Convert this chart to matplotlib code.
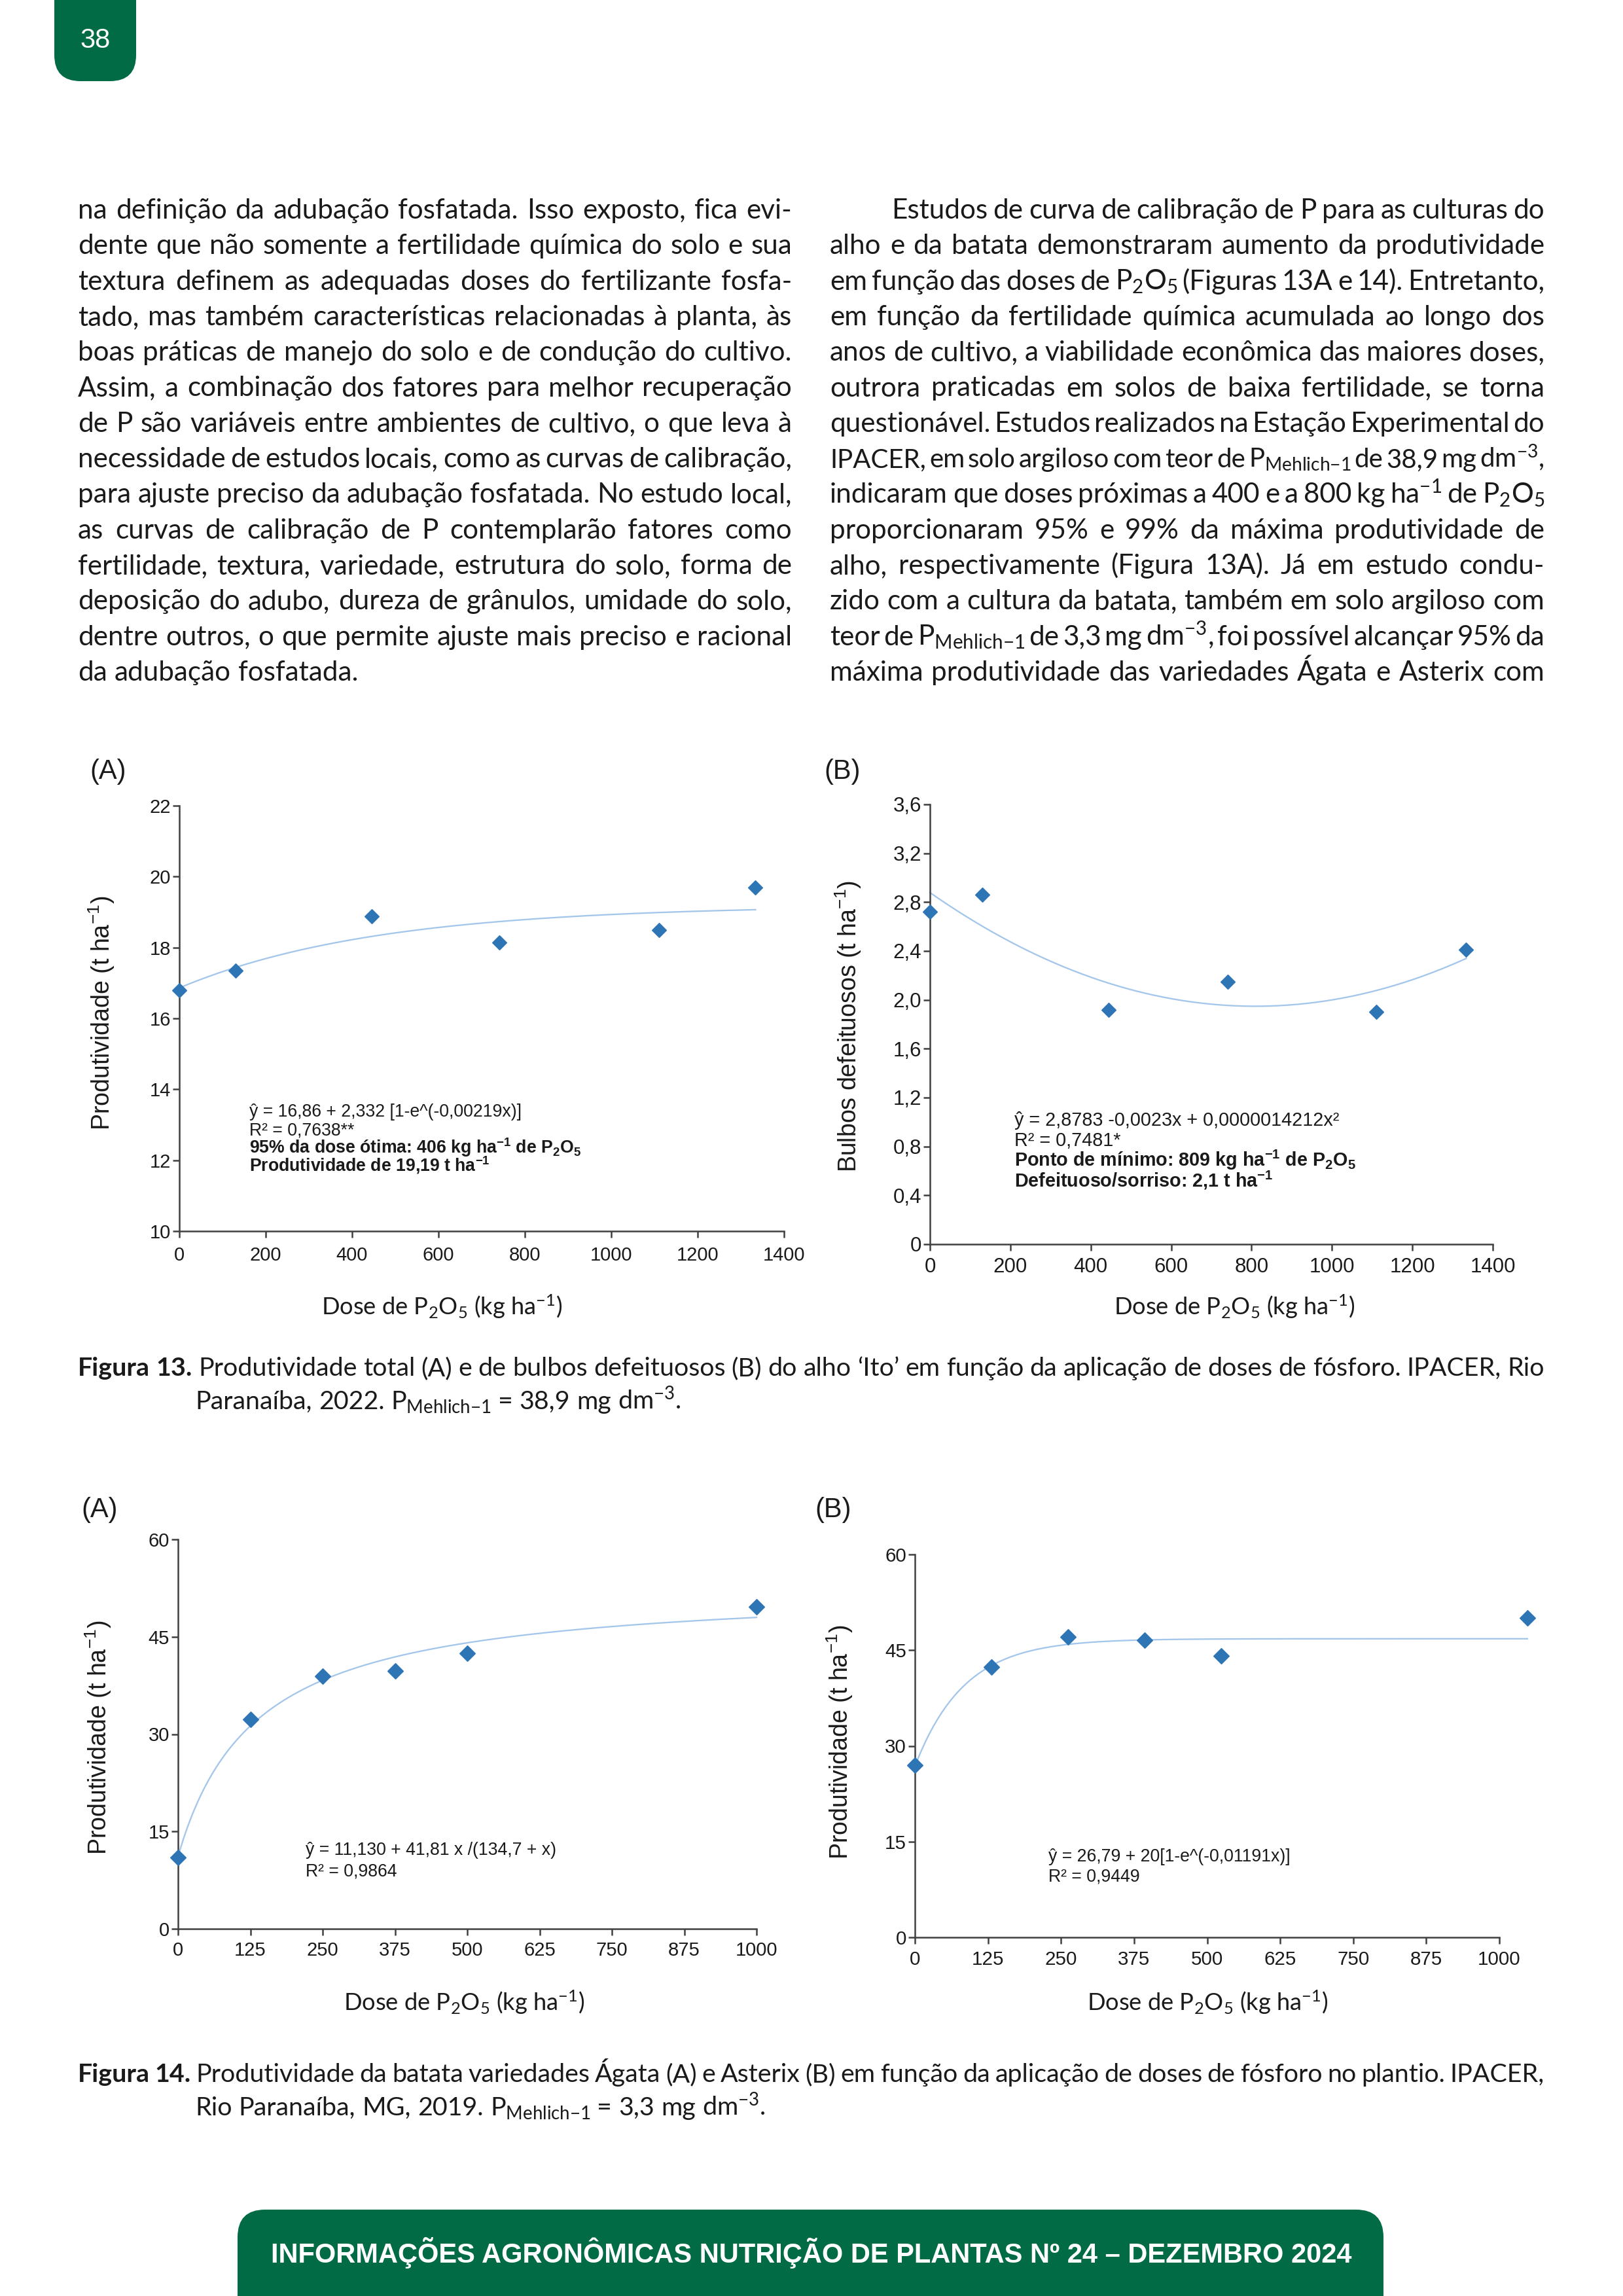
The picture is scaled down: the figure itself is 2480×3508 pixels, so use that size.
import matplotlib
matplotlib.use("Agg")
import matplotlib.pyplot as plt
import numpy as np
from matplotlib.patches import FancyBboxPatch
from matplotlib.transforms import Affine2D

# page in pixels (A4 at 300 dpi)
W, H, DPI = 2480, 3508, 300

GREEN = '#006B45'
BLUE = '#2E75B6'
TREND = '#A4C6EA'
AXIS = '#404040'
INK = '#1A1A1A'
BODY = ['Lato', 'DejaVu Sans']
SANS = ['Liberation Sans', 'DejaVu Sans']

plt.rcParams['font.family'] = SANS
plt.rcParams['mathtext.default'] = 'regular'

# ---- values ----
# Figura 13 - alho 'Ito'
dose_13 = [0, 131, 445, 741, 1111, 1334]
prod_13a = [16.80, 17.35, 18.88, 18.15, 18.50, 19.70]
bulbos_13b = [2.72, 2.86, 1.92, 2.15, 1.90, 2.41]
coef_13a = (16.86, 2.332, 0.00219)          # a + b(1 - e^(-c x))
coef_13b = (2.8783, -0.0023, 0.0000014212)  # a + b x + c x^2
xticks_13 = [0, 200, 400, 600, 800, 1000, 1200, 1400]
yticks_13a = [10, 12, 14, 16, 18, 20, 22]
yticks_13b = [0, 0.4, 0.8, 1.2, 1.6, 2.0, 2.4, 2.8, 3.2, 3.6]
ylabels_13b = ['0', '0,4', '0,8', '1,2', '1,6', '2,0', '2,4', '2,8', '3,2', '3,6']

# Figura 14 - batata Agata (A) e Asterix (B)
dose_14a = [0, 125, 250, 375, 500, 1000]
prod_14a = [11.0, 32.3, 38.9, 39.7, 42.5, 49.6]
coef_14a = (11.130, 41.81, 134.7)           # a + b x / (c + x)
dose_14b = [0, 131, 262, 393, 524, 1048]
prod_14b = [27.0, 42.4, 47.1, 46.6, 44.1, 50.1]
coef_14b = (26.79, 20.0, 0.01191)           # a + b(1 - e^(-c x))
xticks_14 = [0, 125, 250, 375, 500, 625, 750, 875, 1000]
yticks_14 = [0, 15, 30, 45, 60]

# ---- page text ----
MEH = 'P$_{Mehlich{-}1}$'
left_col = [
    "na definição da adubação fosfatada. Isso exposto, fica evi-",
    "dente que não somente a fertilidade química do solo e sua",
    "textura definem as adequadas doses do fertilizante fosfa-",
    "tado, mas também características relacionadas à planta, às",
    "boas práticas de manejo do solo e de condução do cultivo.",
    "Assim, a combinação dos fatores para melhor recuperação",
    "de P são variáveis entre ambientes de cultivo, o que leva à",
    "necessidade de estudos locais, como as curvas de calibração,",
    "para ajuste preciso da adubação fosfatada. No estudo local,",
    "as curvas de calibração de P contemplarão fatores como",
    "fertilidade, textura, variedade, estrutura do solo, forma de",
    "deposição do adubo, dureza de grânulos, umidade do solo,",
    "dentre outros, o que permite ajuste mais preciso e racional",
    "da adubação fosfatada.",
]
right_col = [
    "Estudos de curva de calibração de P para as culturas do",
    "alho e da batata demonstraram aumento da produtividade",
    "em função das doses de P$_2$O$_5$ (Figuras 13A e 14). Entretanto,",
    "em função da fertilidade química acumulada ao longo dos",
    "anos de cultivo, a viabilidade econômica das maiores doses,",
    "outrora praticadas em solos de baixa fertilidade, se torna",
    "questionável. Estudos realizados na Estação Experimental do",
    "IPACER, em solo argiloso com teor de " + MEH + " de 38,9 mg dm$^{-3}$,",
    "indicaram que doses próximas a 400 e a 800 kg ha$^{-1}$ de P$_2$O$_5$",
    "proporcionaram 95% e 99% da máxima produtividade de",
    "alho, respectivamente (Figura 13A). Já em estudo condu-",
    "zido com a cultura da batata, também em solo argiloso com",
    "teor de " + MEH + " de 3,3 mg dm$^{-3}$, foi possível alcançar 95% da",
    "máxima produtividade das variedades Ágata e Asterix com",
]
caption_13 = [
    "Figura 13. Produtividade total (A) e de bulbos defeituosos (B) do alho ‘Ito’ em função da aplicação de doses de fósforo. IPACER, Rio",
    "Paranaíba, 2022. " + MEH + " = 38,9 mg dm$^{-3}$.",
]
caption_14 = [
    "Figura 14. Produtividade da batata variedades Ágata (A) e Asterix (B) em função da aplicação de doses de fósforo no plantio. IPACER,",
    "Rio Paranaíba, MG, 2019. " + MEH + " = 3,3 mg dm$^{-3}$.",
]
footer = "INFORMAÇÕES AGRONÔMICAS NUTRIÇÃO DE PLANTAS Nº 24 – DEZEMBRO 2024"

fig = plt.figure(figsize=(W / DPI, H / DPI), dpi=DPI)
renderer = fig.canvas.get_renderer()
# page pixel coordinates, y growing downwards
page = Affine2D().scale(1 / W, -1 / H).translate(0, 1) + fig.transFigure


def put(x, y, s, **kw):
    kw.setdefault('color', INK)
    return fig.text(x, y, s, transform=page, **kw)


def width(t):
    return t.get_window_extent(renderer).width


def space(size):
    a = put(0, 0, 'n n', fontsize=size, family=BODY)
    b = put(0, 0, 'nn', fontsize=size, family=BODY)
    w = width(a) - width(b)
    a.remove()
    b.remove()
    return w


def measure(toks, size, nbold=0):
    arts = [put(0, 0, tk, fontsize=size, family=BODY,
                fontweight='bold' if i < nbold else 'normal')
            for i, tk in enumerate(toks)]
    ws = [width(a) for a in arts]
    for a in arts:
        a.remove()
    return sum(ws)


def fit_size(lines, span, base=10.0, cap=10.6, min_gap=0.5):
    sp = space(base)
    worst = 0
    for txt, nbold in lines:
        toks = txt.split(' ')
        need = measure(toks, base, nbold) + min_gap * sp * (len(toks) - 1)
        worst = max(worst, need / span)
    return min(cap, base / worst)


def line(txt, x0, x1, y, size, justify, nbold=0, min_gap=0.5):
    toks = txt.split(' ')
    if justify and len(toks) > 1:
        # a line that would be too crowded gets a slightly smaller font
        need = measure(toks, size, nbold) + min_gap * space(size) * (len(toks) - 1)
        if need > x1 - x0:
            size = size * (x1 - x0) / need
    arts = [put(0, y, tk, fontsize=size, family=BODY, va='baseline',
                fontweight='bold' if i < nbold else 'normal')
            for i, tk in enumerate(toks)]
    ws = [width(a) for a in arts]
    if justify and len(toks) > 1:
        gap = (x1 - x0 - sum(ws)) / (len(toks) - 1)
    else:
        gap = space(size)
    x = x0
    for a, w in zip(arts, ws):
        a.set_x(x)
        x += w + gap


# ---- header tab and footer ----
fig.add_artist(FancyBboxPatch((83, -100), 125, 224, boxstyle='round,pad=0,rounding_size=40',
                              transform=page, fc=GREEN, ec='none'))
put(145.5, 62, '38', ha='center', va='center', fontsize=10, color='white')
fig.add_artist(FancyBboxPatch((363, 3376), 1751, 260, boxstyle='round,pad=0,rounding_size=42',
                              transform=page, fc=GREEN, ec='none'))
put(1240, 3457, footer, ha='center', va='baseline', fontsize=10.0, fontweight='bold', color='white')

# ---- two text columns ----
plain = [t for t in left_col[:-1] + right_col[1:] if 'Mehlich' not in t]
body_size = fit_size([(t, 0) for t in plain], 1091, min_gap=0.5)
step = 54.3
for i, txt in enumerate(left_col):
    line(txt, 119, 1210, 334 + i * step, body_size, i < len(left_col) - 1)
for i, txt in enumerate(right_col):
    line(txt, 1362 if i == 0 else 1268, 2360, 334 + i * step, body_size, True)

# ---- captions ----
cap_size = fit_size([(caption_13[0], 2), (caption_14[0], 2)], 2241, min_gap=0.75)
for cap, y in ((caption_13, 2102), (caption_14, 3181)):
    line(cap[0], 119, 2360, y, cap_size, True, nbold=2)
    line(cap[1], 298, 2360, y + 51, cap_size, False)


# ---- charts ----
def chart(box, dose, vals, fx, fy, xticks, yticks, ylabels, tsize, xpad, msize):
    l, t, r, b = box
    ax = fig.add_axes([l / W, 1 - b / H, (r - l) / W, (b - t) / H])
    ax.plot(fx, fy, color=TREND, lw=0.55, clip_on=False, zorder=2)
    ax.plot(dose, vals, ls='none', marker='D', ms=msize, color=BLUE, mew=0.3,
            clip_on=False, zorder=3)
    ax.set_xlim(xticks[0], xticks[-1])
    ax.set_ylim(yticks[0], yticks[-1])
    ax.set_xticks(xticks, [str(v) for v in xticks])
    ax.set_yticks(yticks, ylabels)
    ax.patch.set_alpha(0)
    for s in ('top', 'right'):
        ax.spines[s].set_visible(False)
    for s in ('left', 'bottom'):
        ax.spines[s].set_color(AXIS)
        ax.spines[s].set_linewidth(0.6)
    ax.tick_params(axis='both', direction='out', length=2.3, width=0.6, color=AXIS,
                   labelsize=tsize, labelcolor=INK)
    ax.tick_params(axis='x', pad=xpad)
    ax.tick_params(axis='y', pad=0.8)
    return ax


x13 = np.linspace(0, dose_13[-1], 300)
a, b, c = coef_13a
chart((274, 1231, 1198, 1881), dose_13, prod_13a, x13, a + b * (1 - np.exp(-c * x13)),
      xticks_13, yticks_13a, [str(v) for v in yticks_13a], 7.0, 3.2, 3.8)
a, b, c = coef_13b
chart((1421, 1229, 2281, 1901), dose_13, bulbos_13b, x13, a + b * x13 + c * x13 ** 2,
      xticks_13, yticks_13b, ylabels_13b, 7.5, 2.6, 3.9)
x14a = np.linspace(0, dose_14a[-1], 300)
a, b, c = coef_14a
chart((272, 2352, 1156, 2947), dose_14a, prod_14a, x14a, a + b * x14a / (c + x14a),
      xticks_14, yticks_14, [str(v) for v in yticks_14], 7.0, 2.2, 4.1)
x14b = np.linspace(0, dose_14b[-1], 300)
a, b, c = coef_14b
chart((1398, 2375, 2291, 2960), dose_14b, prod_14b, x14b, a + b * (1 - np.exp(-c * x14b)),
      xticks_14, yticks_14, [str(v) for v in yticks_14], 7.1, 2.4, 4.1)

# panel letters
for x, y, s in ((137, 1190, '(A)'), (1259, 1190, '(B)'), (124, 2318, '(A)'), (1245, 2318, '(B)')):
    put(x, y, s, fontsize=10, va='baseline')

# axis titles
xlab = 'Dose de P$_2$O$_5$ (kg ha$^{-1}$)'
for x, y in ((675, 2009), (1886, 2009), (709, 3072), (1845, 3072)):
    put(x, y, xlab, fontsize=8.7, family=BODY, ha='center', va='baseline')
for x, y, s in ((155, 1548, 'Produtividade (t ha$^{-1}$)'),
                (1296, 1568, 'Bulbos defeituosos (t ha$^{-1}$)'),
                (150, 2655, 'Produtividade (t ha$^{-1}$)'),
                (1283, 2662, 'Produtividade (t ha$^{-1}$)')):
    put(x, y, s, fontsize=9.0, rotation=90, ha='center', va='center', rotation_mode='anchor')

# regression notes
notes = [
    (381, 1706, 28, 6.4, [("ŷ = 16,86 + 2,332 [1-e^(-0,00219x)]", 'normal'),
                          ("R² = 0,7638**", 'normal'),
                          ("95% da dose ótima: 406 kg ha$^{-1}$ de P$_2$O$_5$", 'bold'),
                          ("Produtividade de 19,19 t ha$^{-1}$", 'bold')]),
    (1550, 1720, 31, 6.9, [("ŷ = 2,8783 -0,0023x + 0,0000014212x²", 'normal'),
                           ("R² = 0,7481*", 'normal'),
                           ("Ponto de mínimo: 809 kg ha$^{-1}$ de P$_2$O$_5$", 'bold'),
                           ("Defeituoso/sorriso: 2,1 t ha$^{-1}$", 'bold')]),
    (467, 2834, 33, 6.4, [("ŷ = 11,130 + 41,81 x /(134,7 + x)", 'normal'),
                          ("R² = 0,9864", 'normal')]),
    (1602, 2844, 31, 6.4, [("ŷ = 26,79 + 20[1-e^(-0,01191x)]", 'normal'),
                           ("R² = 0,9449", 'normal')]),
]
for x, y, dy, size, rows in notes:
    for k, (s, weight) in enumerate(rows):
        put(x, y + k * dy, s, fontsize=size, fontweight=weight, va='baseline')

fig.savefig('out.png', dpi=DPI)
